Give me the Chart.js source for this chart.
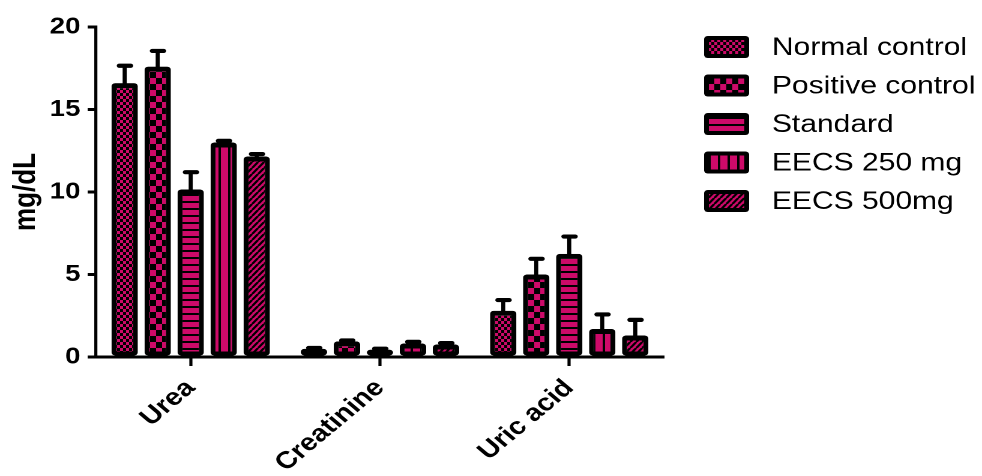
<!DOCTYPE html>
<html>
<head>
<meta charset="utf-8">
<script src="https://cdn.jsdelivr.net/npm/chart.js@4.4.1/dist/chart.umd.min.js"></script>
<style>
  html, body { margin: 0; padding: 0; background: #fff; overflow: hidden; }
  /* the figure is laid out on an 818px-wide canvas and widened to fill 982px */
  #wrap { position: absolute; left: 0; top: 0; width: 818px; height: 476px;
          transform: scaleX(1.2005); transform-origin: 0 0; }
</style>
</head>
<body>
<div id="wrap"><canvas id="c"></canvas></div>
<script>
// ---- data (mg/dL, mean and SEM) ----
const categories = ['Urea', 'Creatinine', 'Uric acid'];
const groupNames = ['Normal control', 'Positive control', 'Standard', 'EECS 250 mg', 'EECS 500mg'];

const normalControl     = [16.6, 0.5, 2.8];
const normalControlSem  = [1.05, 0.05, 0.65];
const positiveControl   = [17.6, 0.95, 5.0];
const positiveControlSem= [0.95, 0.05, 0.95];
const standard          = [10.15, 0.45, 6.25];
const standardSem       = [1.05, 0.05, 1.05];
const eecs250           = [13.0, 0.82, 1.7];
const eecs250Sem        = [0.1, 0.1, 0.88];
const eecs500           = [12.15, 0.76, 1.3];
const eecs500Sem        = [0.15, 0.08, 0.95];

const yTicks = [0, 5, 10, 15, 20];

const seriesValues = [normalControl, positiveControl, standard, eecs250, eecs500];
const seriesSem    = [normalControlSem, positiveControlSem, standardSem, eecs250Sem, eecs500Sem];

// ---- fill patterns ----
const MAGENTA = '#cd0a69';
const FONT = "'Liberation Sans', Arial, Helvetica, sans-serif";

// tiles are drawn at double resolution and scaled back in the pattern transform
function makePattern(w, h, paint) {
  const t = document.createElement('canvas');
  t.width = w; t.height = h;
  const g = t.getContext('2d');
  g.fillStyle = '#000';
  g.fillRect(0, 0, w, h);
  paint(g, w, h);
  const ctx = document.createElement('canvas').getContext('2d');
  const p = ctx.createPattern(t, 'repeat');
  p.setTransform(new DOMMatrix([0.5, 0, 0, 0.5, 0, 0]));
  return p;
}

const patterns = [
  // fine checker
  makePattern(10, 12, (g) => {
    g.fillStyle = MAGENTA;
    g.fillRect(0, 0, 5, 6);
    g.fillRect(5, 6, 5, 6);
  }),
  // coarse checker
  makePattern(20, 24, (g) => {
    g.fillStyle = MAGENTA;
    g.fillRect(0, 0, 10, 12);
    g.fillRect(10, 12, 10, 12);
  }),
  // horizontal stripes
  makePattern(8, 14, (g) => {
    g.fillStyle = MAGENTA;
    g.fillRect(0, 0, 8, 10);
  }),
  // vertical stripes
  makePattern(16, 8, (g) => {
    g.fillStyle = MAGENTA;
    g.fillRect(0, 0, 12, 8);
  }),
  // diagonal hatch
  makePattern(10, 12, (g, w, h) => {
    g.fillStyle = MAGENTA;
    g.fillRect(0, 0, w, h);
    g.strokeStyle = '#000';
    g.lineWidth = 4;
    for (let k = -1; k <= 1; k++) {
      g.beginPath();
      g.moveTo(k * w, h);
      g.lineTo(k * w + w, 0);
      g.stroke();
    }
  })
];

// ---- error bars (upper SEM) ----
const errorBars = {
  id: 'errorBars',
  afterDatasetsDraw(chart) {
    const ctx = chart.ctx;
    const y = chart.scales.y;
    chart.data.datasets.forEach((ds, i) => {
      const meta = chart.getDatasetMeta(i);
      meta.data.forEach((bar, j) => {
        const v = ds.data[j];
        const e = seriesSem[i][j];
        const yb = y.getPixelForValue(v);
        const yt = y.getPixelForValue(v + e);
        ctx.save();
        ctx.strokeStyle = '#000';
        ctx.lineWidth = 3.4;
        ctx.beginPath();
        ctx.moveTo(bar.x, yb + 3);
        ctx.lineTo(bar.x, yt);
        ctx.stroke();
        ctx.lineWidth = 4.2;
        ctx.lineCap = 'round';
        ctx.beginPath();
        ctx.moveTo(bar.x - 4.5, yt);
        ctx.lineTo(bar.x + 5, yt);
        ctx.stroke();
        ctx.restore();
      });
    });
  }
};

// ---- legend at the right ----
const groupLegend = {
  id: 'groupLegend',
  afterDraw(chart) {
    const ctx = chart.ctx;
    const boxX = 586.5, boxW = 37.5, boxH = 22, textX = 643;
    const top = 47, step = 38.5;
    ctx.save();
    chart.data.datasets.forEach((ds, i) => {
      const cy = top + i * step;
      ctx.fillStyle = '#000';
      ctx.beginPath();
      ctx.roundRect(boxX, cy - boxH / 2, boxW, boxH, 3);
      ctx.fill();
      ctx.fillStyle = ds.backgroundColor;
      ctx.fillRect(boxX + 4, cy - boxH / 2 + 4, boxW - 8, boxH - 8);
      ctx.fillStyle = '#000';
      ctx.font = '25px ' + FONT;
      ctx.textBaseline = 'middle';
      ctx.textAlign = 'left';
      ctx.fillText(ds.label, textX, cy + 1);
    });
    ctx.restore();
  }
};

const datasets = groupNames.map((name, i) => ({
  label: name,
  data: seriesValues[i],
  backgroundColor: patterns[i],
  borderColor: '#000',
  borderWidth: { top: 5, bottom: 4, left: 4.2, right: 4.2 },
  borderSkipped: false,
  borderRadius: 3,
  categoryPercentage: 0.872,
  barPercentage: 0.8
}));

new Chart(document.getElementById('c'), {
  type: 'bar',
  data: { labels: categories, datasets },
  options: {
    responsive: true,
    maintainAspectRatio: false,
    devicePixelRatio: 2,
    animation: false,
    layout: { padding: { top: 27, right: 265, left: 0, bottom: 0 } },
    plugins: { legend: { display: false }, tooltip: { enabled: false } },
    scales: {
      x: {
        type: 'category',
        afterFit(s) { s.height = 119; },
        grid: { offset: false, drawOnChartArea: false, drawTicks: true, tickLength: 9,
                tickWidth: 2.6, color: '#000' },
        border: { color: '#000', width: 3 },
        ticks: { minRotation: 45, maxRotation: 45, color: '#000', padding: 8,
                 font: { family: FONT, size: 24, weight: 'bold' } }
      },
      y: {
        min: 0, max: 20,
        afterFit(s) { s.width = 80; },
        afterBuildTicks(s) { s.ticks = yTicks.map(v => ({ value: v })); },
        grid: { drawOnChartArea: false, drawTicks: true, tickLength: 7, lineWidth: 3,
                color: '#000' },
        border: { color: '#000', width: 2.6 },
        ticks: { color: '#000', padding: 6, font: { family: FONT, size: 23, weight: 'bold' } },
        title: { display: true, text: 'mg/dL', color: '#000', padding: { top: 6, bottom: 0 },
                 font: { family: FONT, size: 26, weight: 'bold' } }
      }
    }
  },
  plugins: [errorBars, groupLegend]
});
</script>
</body>
</html>
